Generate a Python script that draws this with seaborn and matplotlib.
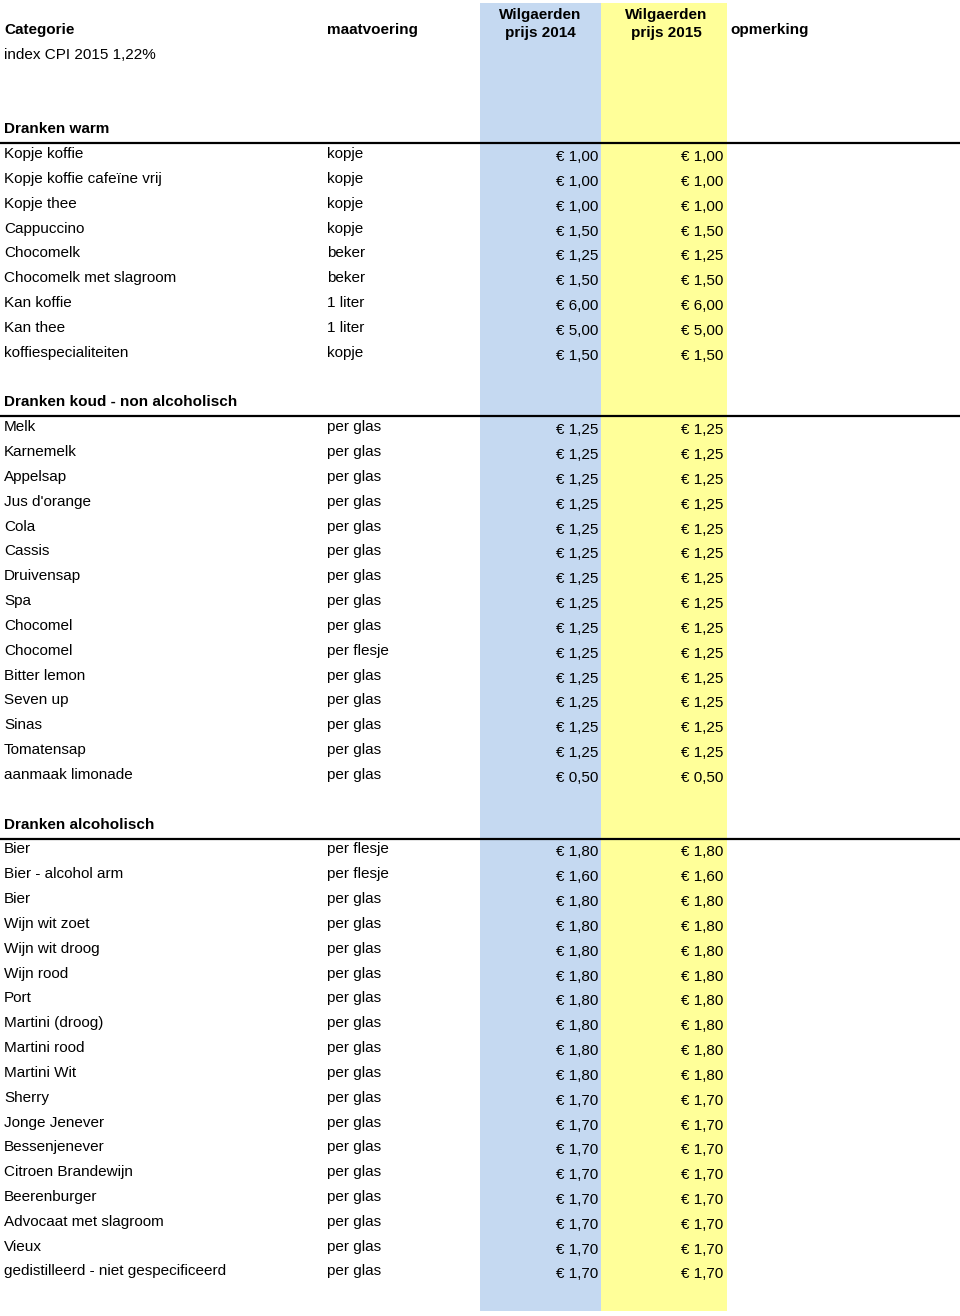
import matplotlib.pyplot as plt
import seaborn as sns

# --- data ---
secties = ["Dranken warm", "Dranken koud - non alcoholisch", "Dranken alcoholisch"]

warm_items = ["Kopje koffie", "Kopje koffie cafeïne vrij", "Kopje thee", "Cappuccino",
              "Chocomelk", "Chocomelk met slagroom", "Kan koffie", "Kan thee",
              "koffiespecialiteiten"]
warm_maat = ["kopje", "kopje", "kopje", "kopje", "beker", "beker", "1 liter", "1 liter", "kopje"]
warm_2014 = [1.00, 1.00, 1.00, 1.50, 1.25, 1.50, 6.00, 5.00, 1.50]
warm_2015 = [1.00, 1.00, 1.00, 1.50, 1.25, 1.50, 6.00, 5.00, 1.50]

koud_items = ["Melk", "Karnemelk", "Appelsap", "Jus d'orange", "Cola", "Cassis",
              "Druivensap", "Spa", "Chocomel", "Chocomel", "Bitter lemon", "Seven up",
              "Sinas", "Tomatensap", "aanmaak limonade"]
koud_maat = ["per glas"] * 9 + ["per flesje"] + ["per glas"] * 5
koud_2014 = [1.25] * 14 + [0.50]
koud_2015 = [1.25] * 14 + [0.50]

alc_items = ["Bier", "Bier - alcohol arm", "Bier", "Wijn wit zoet", "Wijn wit droog",
             "Wijn rood", "Port", "Martini (droog)", "Martini rood", "Martini Wit",
             "Sherry", "Jonge Jenever", "Bessenjenever", "Citroen Brandewijn",
             "Beerenburger", "Advocaat met slagroom", "Vieux",
             "gedistilleerd - niet gespecificeerd"]
alc_maat = ["per flesje", "per flesje"] + ["per glas"] * 16
alc_2014 = [1.80, 1.60] + [1.80] * 8 + [1.70] * 8
alc_2015 = [1.80, 1.60] + [1.80] * 8 + [1.70] * 8

koppen = ["Categorie", "maatvoering", "Wilgaerden\nprijs 2014", "Wilgaerden\nprijs 2015", "opmerking"]
index_tekst = "index CPI 2015 1,22%"

# --- layout ---
sns.set_style("white")
plt.rcParams['font.family'] = ['Liberation Sans', 'DejaVu Sans']
plt.rcParams['text.color'] = 'black'

W, H = 960, 1316
fig = plt.figure(figsize=(W / 100, H / 100), dpi=100)
ax = fig.add_axes([0, 0, 1, 1])
ax.set_xlim(0, W)
ax.set_ylim(H, 0)
ax.axis("off")

x_cat, x_maat = 4, 327
col14 = (480, 601)
col15 = (601, 727)
x_opm = 730
y0, dy = 30, 24.83
fs = 11

ax.axvspan(col14[0], col14[1], ymin=1 - 1311 / H, ymax=1 - 3 / H, color="#c5d9f1", lw=0)
ax.axvspan(col15[0], col15[1], ymin=1 - 1311 / H, ymax=1 - 3 / H, color="#ffff99", lw=0)

def fmt(v):
    return "€ " + f"{v:.2f}".replace(".", ",")

# header
ax.text(x_cat, y0, koppen[0], fontsize=fs, fontweight="bold", va="center")
ax.text(x_maat, y0, koppen[1], fontsize=fs, fontweight="bold", va="center")
ax.text(sum(col14) / 2, y0 - 6, koppen[2], fontsize=fs, fontweight="bold", va="center",
        ha="center", linespacing=1.4)
ax.text(sum(col15) / 2 + 2, y0 - 6, koppen[3], fontsize=fs, fontweight="bold", va="center",
        ha="center", linespacing=1.4)
ax.text(x_opm, y0, koppen[4], fontsize=fs, fontweight="bold", va="center")
ax.text(x_cat, y0 + dy, index_tekst, fontsize=fs, va="center")

blokken = [(warm_items, warm_maat, warm_2014, warm_2015),
           (koud_items, koud_maat, koud_2014, koud_2015),
           (alc_items, alc_maat, alc_2014, alc_2015)]

row = 4
for naam, (items, maat, p14, p15) in zip(secties, blokken):
    y = y0 + row * dy
    ax.text(x_cat, y, naam, fontsize=fs, fontweight="bold", va="center")
    ax.plot([0, W], [y + 14, y + 14], color="black", lw=1.6, solid_capstyle="butt")
    row += 1
    for it, m, a, b in zip(items, maat, p14, p15):
        y = y0 + row * dy
        ax.text(x_cat, y, it, fontsize=fs, va="center")
        ax.text(x_maat, y, m, fontsize=fs, va="center")
        ax.text(col14[1] - 3, y + 3, fmt(a), fontsize=fs, va="center", ha="right")
        ax.text(col15[1] - 4, y + 3, fmt(b), fontsize=fs, va="center", ha="right")
        row += 1
    row += 1

fig.savefig("out.png", dpi=100)
